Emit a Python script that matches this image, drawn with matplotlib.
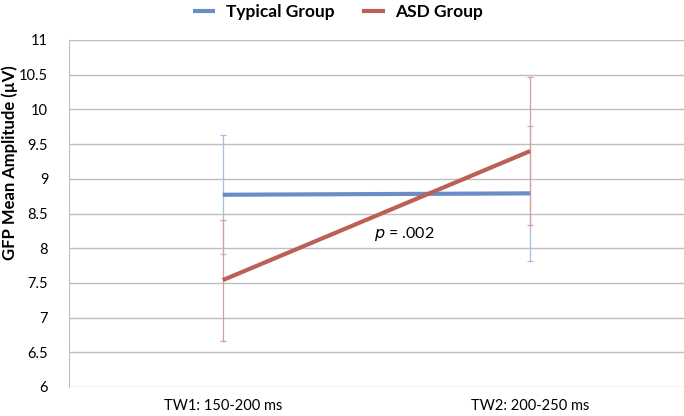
import matplotlib
matplotlib.use("Agg")
import matplotlib.pyplot as plt

windows = ["TW1: 150-200 ms", "TW2: 200-250 ms"]
typical_mean = [8.77, 8.79]
typical_err = [0.86, 0.97]
asd_mean = [7.54, 9.40]
asd_err = [0.87, 1.06]
yticks = [6, 6.5, 7, 7.5, 8, 8.5, 9, 9.5, 10, 10.5, 11]

BLUE = "#6A8DC6"
RED = "#BC5F57"
BLUE_ERR = "#A9BEDD"
RED_ERR = "#D3A09B"
GRID = "#BEBEBE"
FONT = "Lato"

plt.rcParams["font.family"] = [FONT, "DejaVu Sans"]

W, H = 684, 416
fig = plt.figure(figsize=(W / 100, H / 100), dpi=100)
# plot area: x 69..684 px, y 40..387 px
ax = fig.add_axes([69 / W, 1 - 387 / H, 615 / W, 347 / H])

x = list(range(len(windows)))
ax.errorbar(x, typical_mean, yerr=typical_err, fmt="none", ecolor=BLUE_ERR,
            elinewidth=0.9, capsize=2.5, capthick=0.9, zorder=2)
ax.errorbar(x, asd_mean, yerr=asd_err, fmt="none", ecolor=RED_ERR,
            elinewidth=0.9, capsize=2.5, capthick=0.9, zorder=2)
ax.plot(x, typical_mean, color=BLUE, lw=3, solid_capstyle="butt", zorder=3, label="Typical Group")
ax.plot(x, asd_mean, color=RED, lw=3, solid_capstyle="butt", zorder=3, label="ASD Group")

ax.set_xlim(-0.5, 1.5)
ax.set_ylim(6, 11)
ax.set_yticks(yticks)
ax.set_yticklabels([f"{v:g}" for v in yticks], fontsize=10.5)
ax.set_xticks(x)
ax.set_xticklabels(windows, fontsize=10.5)
ax.tick_params(axis="x", length=0, pad=9)
ax.tick_params(axis="y", length=0, pad=15)
ax.grid(axis="y", color=GRID, lw=1)
ax.set_axisbelow(True)
for s in ["top", "right", "bottom"]:
    ax.spines[s].set_visible(False)
ax.spines["left"].set_color(GRID)

fig.text(10 / W, 1 - 163 / H, "GFP Mean Amplitude (\u00b5V)", fontsize=12, weight="bold",
         rotation=90, ha="center", va="center")

ax.text(0.59, 8.2, r"$\it{p}$ = .002", fontsize=11.5, ha="center", va="center")

ax.legend(loc="center", bbox_to_anchor=(0.437, 1 + 28 / 347), ncol=2, frameon=False,
          prop={"family": FONT, "weight": "bold", "size": 12.5},
          handlelength=1.3, columnspacing=1.6, handletextpad=0.6)

fig.savefig("out.png", dpi=100, facecolor="white")
